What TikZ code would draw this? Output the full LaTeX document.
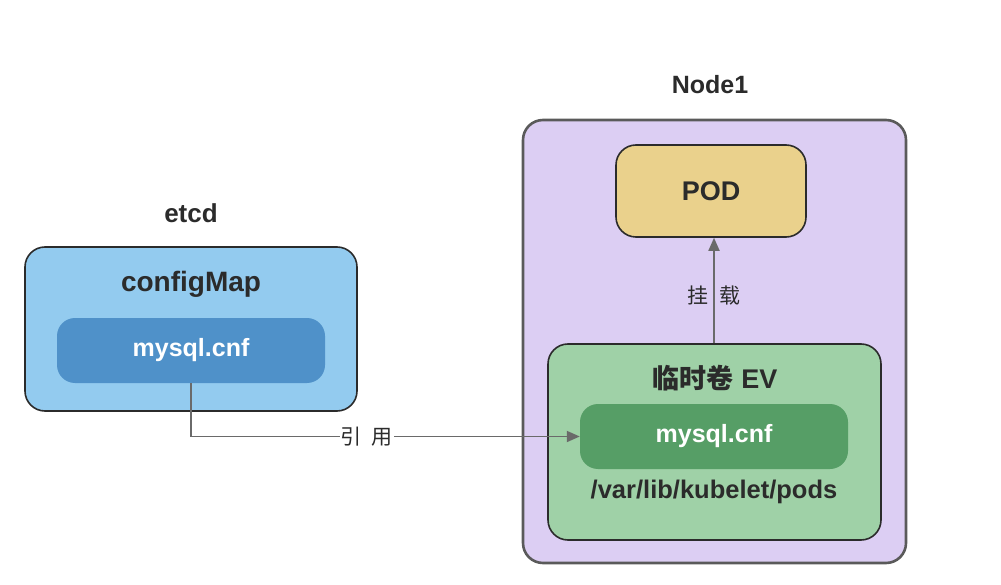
\documentclass[tikz,border=0pt]{standalone}
\usepackage{fontspec}
\setmainfont{Liberation Sans}
\newfontfamily\cjk{Noto Sans CJK SC}
\usetikzlibrary{arrows.meta}
\definecolor{cmfill}{HTML}{93CBEF}
\definecolor{cminner}{HTML}{4F91C9}
\definecolor{lav}{HTML}{DCCEF3}
\definecolor{gold}{HTML}{EAD18C}
\definecolor{gfill}{HTML}{9FD1A7}
\definecolor{ginner}{HTML}{569E66}
\definecolor{dark}{HTML}{2B2B2B}
\definecolor{nodeb}{HTML}{5A5A5A}
\definecolor{arr}{HTML}{6A6A6A}
\tikzset{
  box/.style={draw=dark, line width=1.6pt, rounded corners=20pt, inner sep=0pt},
  innerbox/.style={rounded corners=18pt, inner sep=0pt, minimum width=268pt, minimum height=65pt, text=white, font=\fontsize{25}{29}\selectfont\bfseries},
  title/.style={text=dark, font=\fontsize{26}{30}\selectfont\bfseries, inner sep=0pt},
  conn/.style={draw=arr, line width=1.8pt, -{Triangle[length=13pt,width=11pt]}},
  cnlabel/.style={text=dark, font=\fontsize{21}{25}\selectfont\cjk, inner sep=1pt}
}
\begin{document}
\begin{tikzpicture}[x=1pt,y=-1pt]
\useasboundingbox (0,0) rectangle (1001,585);
% etcd side
\node[title] (etcdlbl) at (191,213) {etcd};
\node[box, fill=cmfill, minimum width=332pt, minimum height=164pt] (cmbox) at (191,329) {};
\node[title, font=\fontsize{28}{32}\selectfont\bfseries] (cmtitle) at (191,284) {configMap};
\node[innerbox, fill=cminner] (cmfile) at (191,350.5) {mysql.cnf};
% Node1 side
\node[title, font=\fontsize{25}{29}\selectfont\bfseries] (nodelbl) at (710,85) {Node1};
\node[draw=nodeb, line width=2.6pt, rounded corners=20pt, fill=lav, minimum width=383pt, minimum height=443pt, inner sep=0pt] (node1) at (714.5,341.5) {};
\node[box, fill=gold, minimum width=190pt, minimum height=92pt, font=\fontsize{27}{31}\selectfont\bfseries, text=dark] (pod) at (711,191) {POD};
\node[box, fill=gfill, minimum width=333pt, minimum height=196pt] (ev) at (714.5,442) {};
\node[title, font=\fontsize{27}{31}\selectfont\bfseries] (evtitle) at (715,378) {{\cjk\bfseries 临时卷} EV};
\node[innerbox, fill=ginner] (evfile) at (714,436.5) {mysql.cnf};
\node[title, font=\fontsize{25.5}{29}\selectfont\bfseries] (path) at (714,492) {/var/lib/kubelet/pods};
% connectors
\draw[conn] (ev.north -| 714,0) -- node[cnlabel, pos=0.45] {挂\hspace{12pt}载} (pod.south -| 714,0);
\draw[conn] (cmfile.south) |- node[cnlabel, fill=white, pos=0.726] {引\hspace{10pt}用} (evfile.west);
\end{tikzpicture}
\end{document}
